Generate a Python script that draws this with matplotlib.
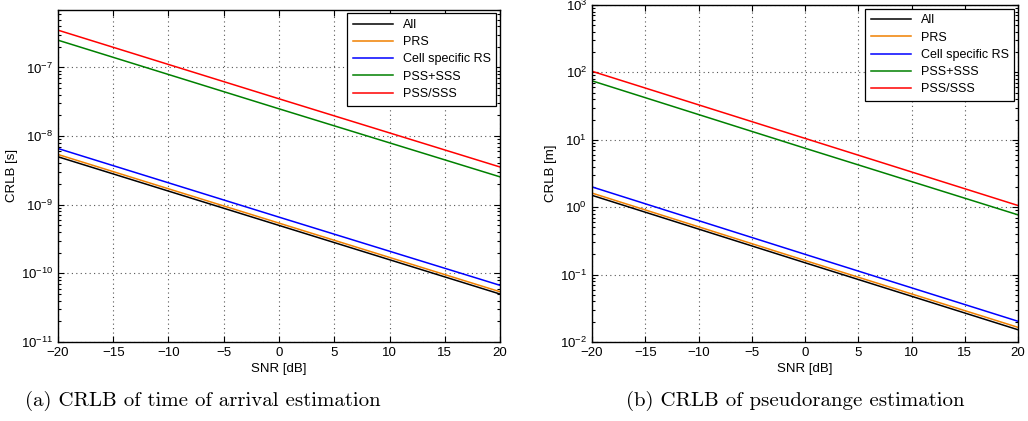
import matplotlib
matplotlib.use("Agg")
import matplotlib.pyplot as plt
from matplotlib.ticker import LogLocator, NullFormatter, FixedLocator

plt.rcParams['font.family'] = ['Liberation Sans', 'DejaVu Sans']
plt.rcParams['mathtext.default'] = 'regular'

# ---- data ----
snr_db = [-20, 0, 20]
series_names = ["All", "PRS", "Cell specific RS", "PSS+SSS", "PSS/SSS"]
series_colors = ["#000000", "#f08000", "#0000ff", "#008000", "#ff0000"]

# CRLB of time of arrival [s]
toa_all = [5.0e-9, 5.0e-10, 5.0e-11]
toa_prs = [5.4e-9, 5.4e-10, 5.4e-11]
toa_crs = [6.6e-9, 6.6e-10, 6.7e-11]
toa_pss_plus = [2.5e-7, 2.5e-8, 2.55e-9]
toa_pss_slash = [3.5e-7, 3.5e-8, 3.55e-9]

# CRLB of pseudorange [m]
pr_all = [1.5, 0.15, 0.0152]
pr_prs = [1.62, 0.162, 0.0165]
pr_crs = [2.0, 0.2, 0.0203]
pr_pss_plus = [75.0, 7.5, 0.77]
pr_pss_slash = [104.0, 10.5, 1.06]

x_ticks = [-20, -15, -10, -5, 0, 5, 10, 15, 20]

toa_series = [toa_all, toa_prs, toa_crs, toa_pss_plus, toa_pss_slash]
pr_series = [pr_all, pr_prs, pr_crs, pr_pss_plus, pr_pss_slash]

fig = plt.figure(figsize=(10.28, 4.21), dpi=100)
ax1 = fig.add_axes([58/1028, 1-342/421, (500-58)/1028, (342-9.5)/421])
ax2 = fig.add_axes([592/1028, 1-342/421, (1018-592)/1028, (342-5)/421])


def style(ax, ylim, ylabel):
    ax.set_yscale('log')
    ax.set_xlim(-20, 20)
    ax.set_ylim(*ylim)
    ax.xaxis.set_major_locator(FixedLocator(x_ticks))
    ax.yaxis.set_major_locator(LogLocator(base=10, numticks=20))
    ax.yaxis.set_minor_locator(LogLocator(base=10, subs=range(2, 10), numticks=20))
    ax.yaxis.set_minor_formatter(NullFormatter())
    ax.tick_params(which='both', direction='in', top=True, right=True,
                   labelsize=9.5, width=0.8)
    ax.tick_params(which='major', length=4)
    ax.tick_params(which='minor', length=2.5)
    ax.grid(True, which='major', linestyle=(0, (1, 3)), color='#555555', linewidth=0.8)
    for s in ax.spines.values():
        s.set_linewidth(1.0)
    ax.set_xlabel("SNR [dB]", fontsize=9.5, labelpad=3)
    ax.set_ylabel(ylabel, fontsize=9.5, labelpad=2)
    leg = ax.legend(loc='upper right', fontsize=9, fancybox=False, framealpha=1,
                    edgecolor='black', borderaxespad=0.3, handlelength=3.2,
                    labelspacing=0.42, borderpad=0.45)
    leg.get_frame().set_linewidth(0.9)


for name, col, vals in zip(series_names, series_colors, toa_series):
    ax1.plot(snr_db, vals, color=col, lw=1.1, label=name)
for name, col, vals in zip(series_names, series_colors, pr_series):
    ax2.plot(snr_db, vals, color=col, lw=1.1, label=name)

style(ax1, (1e-11, 7e-7), "CRLB [s]")
style(ax2, (1e-2, 1e3), "CRLB [m]")

fig.text(203/1028, 1-401/421, "(a) CRLB of time of arrival estimation",
         ha='center', va='center', fontsize=15, family='cmr10')
fig.text(795/1028, 1-401/421, "(b) CRLB of pseudorange estimation",
         ha='center', va='center', fontsize=15, family='cmr10')

fig.savefig("out.png", dpi=100)
